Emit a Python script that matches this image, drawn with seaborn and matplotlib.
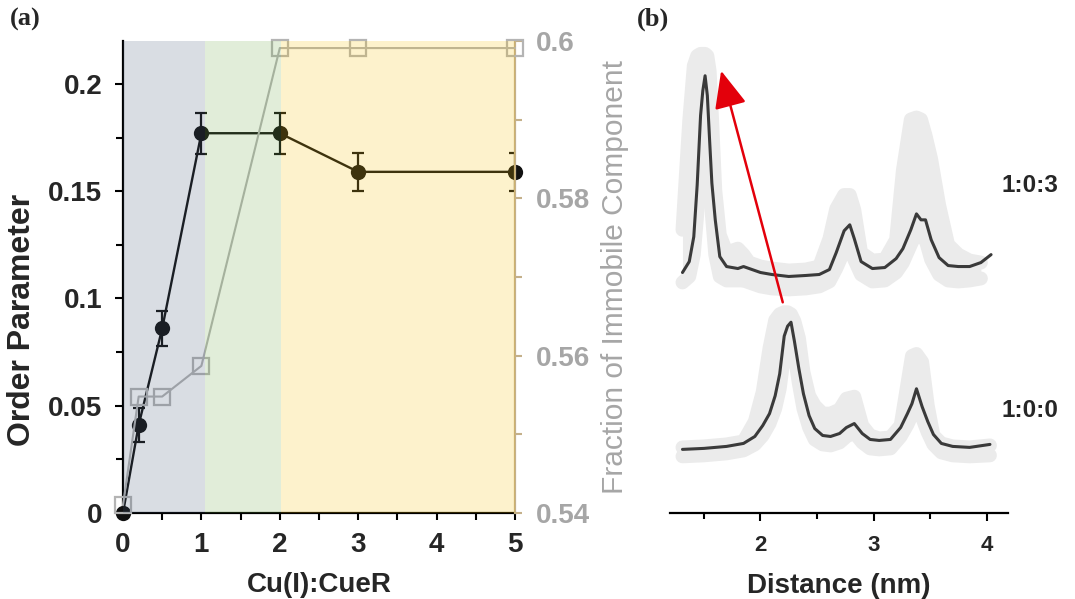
import numpy as np
import matplotlib
matplotlib.use('Agg')
import matplotlib.pyplot as plt
import seaborn as sns
from matplotlib.ticker import MultipleLocator, FixedLocator

# ---- panel (a) data ----
ratio = [0, 0.2, 0.5, 1, 2, 3, 5]
order_param = [0.0, 0.041, 0.086, 0.177, 0.177, 0.159, 0.159]
order_err = [0.0, 0.008, 0.008, 0.0095, 0.0095, 0.0088, 0.009]
immobile = [0.541, 0.5548, 0.5548, 0.5587, 0.5991, 0.5991, 0.5991]
region_edges = [0, 1.05, 2.02, 5]
region_colors = ['#415573', '#69a541', '#f5be00']

# ---- panel (b) data ----
dist_top = [1.31, 1.37, 1.41, 1.44, 1.47, 1.49, 1.51, 1.53, 1.55, 1.57, 1.60, 1.64,
            1.70, 1.80, 1.85, 1.90, 2.00, 2.10, 2.25, 2.40, 2.52, 2.61, 2.67, 2.74,
            2.79, 2.83, 2.89, 2.99, 3.10, 3.20, 3.26, 3.33, 3.38, 3.42, 3.46, 3.51,
            3.58, 3.66, 3.75, 3.85, 3.95, 4.04]
pr_top = [2.42, 2.53, 2.78, 3.30, 4.00, 4.25, 4.40, 4.20, 3.75, 3.32, 2.95, 2.58,
          2.48, 2.46, 2.48, 2.46, 2.42, 2.40, 2.38, 2.39, 2.40, 2.45, 2.62, 2.84,
          2.90, 2.76, 2.53, 2.46, 2.47, 2.56, 2.66, 2.85, 3.01, 2.95, 2.95, 2.75,
          2.57, 2.49, 2.48, 2.48, 2.52, 2.60]
hi_top = [2.85, 3.95, 4.50, 4.60, 4.62, 4.62, 4.62, 4.60, 4.45, 4.00, 3.25, 2.80,
          2.62, 2.66, 2.60, 2.52, 2.48, 2.46, 2.44, 2.45, 2.48, 2.76, 3.06, 3.20,
          3.20, 3.05, 2.62, 2.54, 2.55, 2.75, 3.45, 3.96, 3.98, 3.96, 3.80, 3.56,
          3.10, 2.70, 2.60, 2.54, 2.52, np.nan]
lo_top = [2.32, 2.38, 2.60, 3.00, 3.60, 3.90, 4.00, 3.80, 3.40, 3.00, 2.60, 2.38,
          2.34, 2.34, 2.34, 2.32, 2.28, 2.26, 2.25, 2.26, 2.28, 2.33, 2.46, 2.64,
          2.68, 2.55, 2.40, 2.33, 2.34, 2.42, 2.52, 2.70, 2.82, 2.78, 2.75, 2.55,
          2.40, 2.34, 2.33, 2.34, 2.36, np.nan]

dist_bot = [1.31, 1.50, 1.70, 1.85, 1.95, 2.02, 2.08, 2.13, 2.17, 2.21, 2.24, 2.27,
            2.30, 2.34, 2.38, 2.43, 2.48, 2.55, 2.62, 2.70, 2.76, 2.83, 2.90, 2.97,
            3.05, 3.15, 3.24, 3.30, 3.34, 3.38, 3.43, 3.48, 3.53, 3.60, 3.70, 3.85, 4.03]
pr_bot = [0.64, 0.65, 0.67, 0.70, 0.77, 0.88, 1.00, 1.18, 1.40, 1.78, 1.88, 1.92,
          1.73, 1.45, 1.20, 0.98, 0.85, 0.78, 0.77, 0.80, 0.86, 0.90, 0.80, 0.74,
          0.73, 0.74, 0.86, 1.00, 1.10, 1.25, 1.07, 0.92, 0.79, 0.70, 0.67, 0.66, 0.69]
hi_bot = [0.66, 0.67, 0.69, 0.72, 0.92, 1.22, 1.66, 1.94, 2.00, 2.02, 2.02, 2.00,
          1.93, 1.76, 1.42, 1.18, 1.08, 1.00, 1.00, 1.04, 1.15, 1.17, 0.88, 0.78,
          0.75, 0.76, 0.88, 1.30, 1.58, 1.60, 1.52, 1.08, 0.78, 0.70, 0.67, 0.66, 0.68]
lo_bot = [0.57, 0.58, 0.60, 0.63, 0.69, 0.78, 0.90, 1.05, 1.25, 1.60, 1.75, 1.78,
          1.60, 1.30, 1.05, 0.86, 0.74, 0.69, 0.68, 0.71, 0.77, 0.81, 0.71, 0.65,
          0.64, 0.65, 0.77, 0.89, 0.99, 1.12, 0.96, 0.81, 0.69, 0.61, 0.58, 0.57, 0.58]
sample_labels = ['1:0:3', '1:0:0']
label_pos = [(4.13, 3.30), (4.13, 1.03)]
arrow_from = (2.197, 2.12)
arrow_to = (1.652, 4.45)

sns.set_theme(style='ticks')
plt.rcParams['font.family'] = ['Liberation Sans', 'DejaVu Sans']
plt.rcParams['font.weight'] = 'bold'

fig = plt.figure(figsize=(10.75, 5.99), dpi=100)
ax = fig.add_axes([0.1144, 0.1436, 0.3647, 0.788])
ax2 = ax.twinx()

# black order parameter series
sns.lineplot(x=ratio, y=order_param, ax=ax, color='#111111', lw=1.7,
             marker='o', markersize=11, markeredgewidth=0, zorder=3, clip_on=False)
ax.errorbar(ratio, order_param, yerr=order_err, fmt='none', ecolor='#111111',
            elinewidth=1.6, capsize=4, capthick=1.6, zorder=3)
ax.set_xlim(0, 5)
ax.set_ylim(0, 0.22)
ax.yaxis.set_major_locator(FixedLocator([0, 0.05, 0.1, 0.15, 0.2]))
ax.set_yticklabels(['0', '0.05', '0.1', '0.15', '0.2'])
ax.yaxis.set_minor_locator(MultipleLocator(0.025))
ax.xaxis.set_major_locator(MultipleLocator(1))
ax.xaxis.set_minor_locator(MultipleLocator(0.5))
ax.tick_params(axis='both', which='both', direction='out', width=1.5, color='black',
               labelsize=20)
ax.tick_params(axis='y', which='major', length=6, pad=9)
ax.tick_params(axis='x', which='major', length=5, pad=9)
ax.tick_params(axis='both', which='minor', length=5)
for s in ['top', 'right']:
    ax.spines[s].set_visible(False)
for s in ['left', 'bottom']:
    ax.spines[s].set_linewidth(1.6)
    ax.spines[s].set_color('black')
ax.set_xlabel('Cu(I):CueR', fontsize=20, fontweight='bold', labelpad=10)
ax.set_ylabel('Order Parameter', fontsize=23, fontweight='bold')
ax.yaxis.set_label_coords(-0.22, 0.41)

# gray immobile fraction series
sns.lineplot(x=ratio, y=immobile, ax=ax2, color='#b4b4b4', lw=1.5, marker='s',
             markersize=12, markerfacecolor='none', markeredgecolor='#b4b4b4',
             markeredgewidth=1.6, zorder=3, clip_on=False)
for i in range(3):
    ax2.axvspan(region_edges[i], region_edges[i + 1], color=region_colors[i],
                alpha=0.2, lw=0, zorder=10)
ax2.set_ylim(0.54, 0.6)
ax2.yaxis.set_major_locator(FixedLocator([0.54, 0.56, 0.58, 0.6]))
ax2.set_yticklabels(['0.54', '0.56', '0.58', '0.6'])
ax2.yaxis.set_minor_locator(MultipleLocator(0.01))
ax2.tick_params(axis='y', which='both', direction='out', width=1.5, color='#c4b08a',
                labelsize=20, labelcolor='#a6a6a6')
ax2.tick_params(axis='y', which='major', length=5, pad=10)
ax2.tick_params(axis='y', which='minor', length=5)
for s in ['top', 'left', 'bottom']:
    ax2.spines[s].set_visible(False)
ax2.spines['right'].set_color('#c4b08a')
ax2.spines['right'].set_linewidth(1.6)
ax2.set_ylabel('Fraction of Immobile Component', fontsize=21.5, fontweight='normal',
               color='#a6a6a6', labelpad=8)

# ---- panel (b) ----
axb = fig.add_axes([0.6233, 0.1436, 0.3144, 0.788])
band = '#ebebeb'
for d, pr, hi, lo in [(dist_top, pr_top, hi_top, lo_top),
                      (dist_bot, pr_bot, hi_bot, lo_bot)]:
    axb.fill_between(d, lo, hi, color=band, lw=0, zorder=1)
    axb.plot(d, hi, color=band, lw=10, solid_capstyle='round',
             solid_joinstyle='round', zorder=1)
    axb.plot(d, lo, color=band, lw=10, solid_capstyle='round',
             solid_joinstyle='round', zorder=1)
    sns.lineplot(x=d, y=pr, ax=axb, color='#3a3a3a', lw=2.2, zorder=3)

axb.annotate('', xy=arrow_to, xytext=arrow_from,
             arrowprops=dict(arrowstyle='-|>,head_length=2.3,head_width=1.0',
                             color='#e3000b', lw=1.8, shrinkA=0, shrinkB=0,
                             mutation_scale=10), zorder=5)
for lab, (lx, ly) in zip(sample_labels, label_pos):
    axb.text(lx, ly, lab, fontsize=17.5, fontweight='bold', ha='left', va='center',
             clip_on=False)

axb.set_xlim(1.2, 4.19)
axb.set_ylim(0, 4.75)
axb.set_yticks([])
axb.xaxis.set_major_locator(FixedLocator([2, 3, 4]))
axb.xaxis.set_minor_locator(FixedLocator([1.5, 2.5, 3.5]))
axb.tick_params(axis='x', which='both', direction='out', width=1.5, color='black',
                labelsize=16)
axb.tick_params(axis='x', which='major', length=6, pad=10)
axb.tick_params(axis='x', which='minor', length=4)
for s in ['top', 'right', 'left']:
    axb.spines[s].set_visible(False)
axb.spines['bottom'].set_linewidth(1.6)
axb.spines['bottom'].set_color('black')
axb.set_xlabel('Distance (nm)', fontsize=20, fontweight='bold', labelpad=12)

fig.text(0.009, 0.967, '(a)', fontsize=19, fontweight='bold',
         family=['Liberation Serif', 'DejaVu Serif'], va='center')
fig.text(0.592, 0.967, '(b)', fontsize=19, fontweight='bold',
         family=['Liberation Serif', 'DejaVu Serif'], va='center')

fig.savefig('out.png', dpi=100)
